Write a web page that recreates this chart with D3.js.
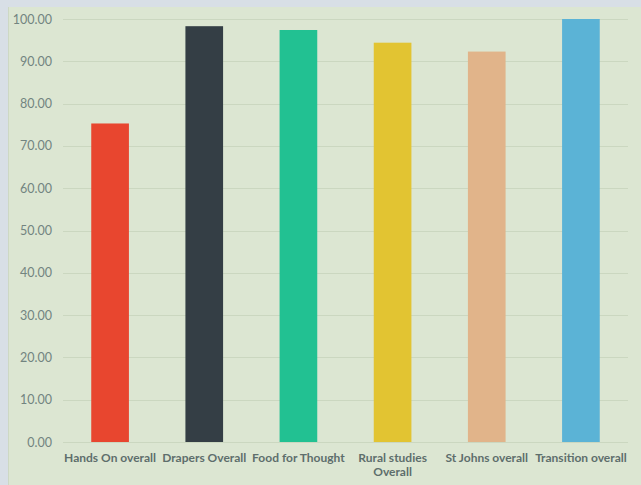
<!DOCTYPE html>
<html>
<head>
<meta charset="utf-8">
<script src="https://cdn.jsdelivr.net/npm/d3@7"></script>
<style>
  html, body { margin: 0; padding: 0; background: #d8dfe6; }
  svg { display: block; }
</style>
</head>
<body>
<svg id="chart" width="641" height="485"></svg>
<script>
const categories = ["Hands On overall", "Drapers Overall", "Food for Thought", "Rural studies Overall", "St Johns overall", "Transition overall"];
const values = [75.3, 98.3, 97.4, 94.4, 92.3, 100.0];
const colors = ["#e8462f", "#343e45", "#22c192", "#e2c432", "#e1b48a", "#5bb3d6"];
const yTicks = [0, 10, 20, 30, 40, 50, 60, 70, 80, 90, 100];
// Two-line labels where the category name wraps
const labelLines = [["Hands On overall"], ["Drapers Overall"], ["Food for Thought"], ["Rural studies", "Overall"], ["St Johns overall"], ["Transition overall"]];

const svg = d3.select("#chart");
const W = 641, H = 485;

// Chart panel
svg.append("rect").attr("x", 8).attr("y", 7).attr("width", W - 8).attr("height", H - 7)
  .attr("fill", "#dce6d2");
svg.append("line").attr("x1", 8.5).attr("x2", 8.5).attr("y1", 7).attr("y2", H)
  .attr("stroke", "#cdd8c4");

const margin = { left: 63, right: 13, top: 19, bottom: 43 };
const x = d3.scaleBand().domain(categories).range([margin.left, W - margin.right]).paddingInner(0.6).paddingOuter(0.3);
const y = d3.scaleLinear().domain([0, 100]).range([H - margin.bottom, margin.top]);

// Gridlines
svg.append("g").selectAll("line").data(yTicks).join("line")
  .attr("x1", margin.left).attr("x2", W - margin.right)
  .attr("y1", d => Math.round(y(d)) + 0.5).attr("y2", d => Math.round(y(d)) + 0.5)
  .attr("stroke", "#cbd7c0").attr("stroke-width", 1);

// Y axis labels
const yAxis = d3.axisLeft(y).tickValues(yTicks).tickFormat(d3.format(".2f")).tickSize(0).tickPadding(11);
const gy = svg.append("g").attr("transform", `translate(${margin.left},0)`).call(yAxis);
gy.select(".domain").remove();
gy.selectAll("text").attr("fill", "#728480").style("font-family", "Lato, 'Open Sans', sans-serif").style("font-size", "12.5px");

// Bars
svg.append("g").selectAll("rect").data(values).join("rect")
  .attr("x", (d, i) => x(categories[i]))
  .attr("width", x.bandwidth())
  .attr("y", d => y(d))
  .attr("height", d => y(0) - y(d))
  .attr("fill", (d, i) => colors[i]);

// Category labels
const lab = svg.append("g").selectAll("text").data(categories).join("text")
  .attr("x", d => x(d) + x.bandwidth() / 2)
  .attr("y", H - margin.bottom + 20)
  .attr("text-anchor", "middle")
  .attr("fill", "#5e6e6c")
  .style("font-family", "Lato, 'Open Sans', sans-serif")
  .style("font-size", "12px")
  .style("font-weight", "bold");
lab.each(function(d, i) {
  const t = d3.select(this);
  labelLines[i].forEach((line, k) => {
    t.append("tspan").attr("x", x(d) + x.bandwidth() / 2).attr("dy", k === 0 ? 0 : 14).text(line);
  });
});
</script>
</body>
</html>
